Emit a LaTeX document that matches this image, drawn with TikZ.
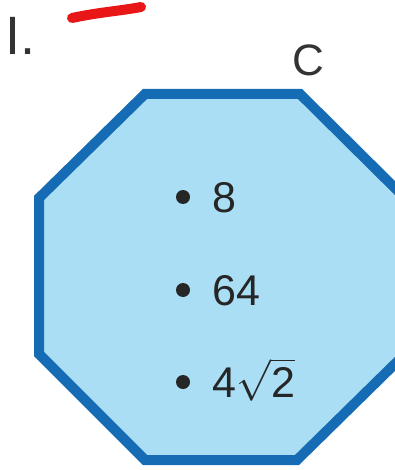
\documentclass[tikz,border=0pt]{standalone}
\usepackage{fontspec}
\setmainfont{Liberation Sans}
\usepackage{amsmath}
\usetikzlibrary{positioning}
\definecolor{octfill}{RGB}{170,222,244}
\definecolor{octline}{RGB}{22,108,180}
\definecolor{penred}{RGB}{232,22,22}
\tikzset{
  octedge/.style={draw=octline,fill=octfill,line width=5pt,line join=miter},
  dotmark/.style={circle,fill=black!85,inner sep=0pt,minimum size=7pt},
  itemtext/.style={inner sep=0pt,text=black!85,font=\fontsize{21.5}{24}\selectfont,
    text height=15.4pt,text depth=0pt},
  bigtext/.style={inner sep=0pt,text=black!80},
}

\begin{document}
\begin{tikzpicture}[x=0.5pt,y=-0.5pt]
  \clip (0,0) rectangle (395,470);
  \useasboundingbox (0,0) rectangle (395,470);
  % octagon, right side runs off the page
  \draw[octedge] (145,94) -- (300,94) -- (405,198) -- (405,354) -- (297,460)
    -- (145,460) -- (39,354) -- (39,198) -- cycle;
  % labels
  \node[bigtext,anchor=base west,font=\fontsize{27}{30}\selectfont] (num) at (5,55) {I.};
  \draw[penred,line width=5pt,line cap=round] (72,18) .. controls (100,12) and (120,11) .. (141,7);
  \node[bigtext,font=\fontsize{22}{24}\selectfont] (lab) at (308,60) {C};
  % items
  \node[dotmark] (d1) at (183,197) {};
  \node[itemtext,right=11pt of d1] (t1) {8};
  \node[dotmark] (d2) at (183,290) {};
  \node[itemtext,right=11pt of d2] (t2) {64};
  \node[dotmark] (d3) at (183,382) {};
  \node[itemtext,right=11pt of d3] (t3) {4$\sqrt{\text{2}}$};
\end{tikzpicture}
\end{document}
